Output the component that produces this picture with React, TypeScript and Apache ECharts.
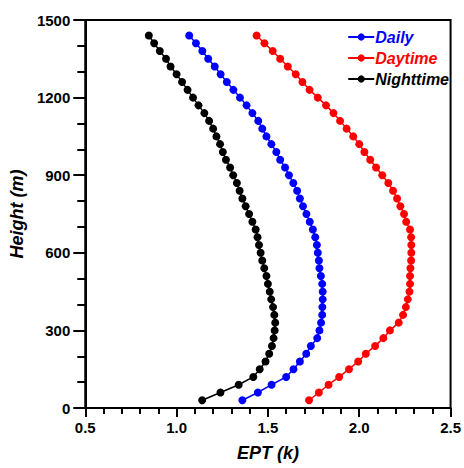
import React, { useEffect, useRef } from "react";
import * as echarts from "echarts";

const heights = [30, 60, 90, 120, 150, 180, 210, 240, 270, 300, 330, 360, 390, 420, 450, 480, 510, 540, 570, 600, 630, 660, 690, 720, 750, 780, 810, 840, 870, 900, 930, 960, 990, 1020, 1050, 1080, 1110, 1140, 1170, 1200, 1230, 1260, 1290, 1320, 1350, 1380, 1410, 1440];

const dailyEPT = [1.36, 1.445, 1.52, 1.6, 1.64, 1.675, 1.71, 1.735, 1.77, 1.782, 1.791, 1.797, 1.798, 1.8, 1.8, 1.797, 1.79, 1.782, 1.779, 1.773, 1.768, 1.759, 1.746, 1.729, 1.711, 1.692, 1.675, 1.66, 1.639, 1.615, 1.594, 1.567, 1.546, 1.519, 1.492, 1.469, 1.447, 1.415, 1.383, 1.347, 1.311, 1.275, 1.241, 1.209, 1.173, 1.141, 1.106, 1.069];

const daytimeEPT = [1.725, 1.779, 1.832, 1.89, 1.944, 1.994, 2.036, 2.087, 2.132, 2.168, 2.216, 2.24, 2.255, 2.266, 2.275, 2.278, 2.278, 2.28, 2.284, 2.285, 2.285, 2.284, 2.278, 2.257, 2.245, 2.225, 2.207, 2.185, 2.159, 2.126, 2.092, 2.06, 2.028, 2.0, 1.967, 1.931, 1.895, 1.859, 1.818, 1.773, 1.728, 1.689, 1.652, 1.609, 1.567, 1.526, 1.481, 1.438];

const nighttimeEPT = [1.14, 1.24, 1.34, 1.42, 1.455, 1.487, 1.507, 1.522, 1.531, 1.537, 1.54, 1.535, 1.528, 1.518, 1.51, 1.5, 1.492, 1.48, 1.469, 1.46, 1.451, 1.443, 1.433, 1.415, 1.397, 1.378, 1.36, 1.345, 1.33, 1.31, 1.293, 1.27, 1.253, 1.238, 1.218, 1.2, 1.178, 1.152, 1.12, 1.09, 1.06, 1.03, 1.0, 0.967, 0.942, 0.908, 0.877, 0.848];

const seriesNames = ["Daily", "Daytime", "Nighttime"];
const seriesColors = ["#0000ff", "#ff0000", "#000000"];
const seriesValues = [dailyEPT, daytimeEPT, nighttimeEPT];

const FONT = "Liberation Sans, Arial, sans-serif";

export default function App() {
  const ref = useRef<HTMLDivElement>(null);
  useEffect(() => {
    if (!ref.current) return;
    const chart = echarts.init(ref.current, null, { renderer: "svg" });
    const axisLabel = { color: "#000", fontFamily: FONT, fontWeight: "bold", fontSize: 15 };
    chart.setOption({
      animation: false,
      backgroundColor: "#fff",
      grid: {
        left: 81,
        right: 11,
        top: 20,
        bottom: 60,
        show: true,
        borderColor: "#000",
        borderWidth: 2,
        backgroundColor: "transparent",
      },
      legend: {
        right: 10,
        top: 24,
        orient: "vertical",
        itemWidth: 26,
        itemHeight: 9,
        itemGap: 5,
        textStyle: { fontFamily: FONT, fontWeight: "bold", fontStyle: "italic", fontSize: 16, padding: [0, 0, 0, -4] },
        data: seriesNames.map((n, i) => ({ name: n, textStyle: { color: seriesColors[i] } })),
      },
      xAxis: {
        type: "value",
        min: 0.5,
        max: 2.5,
        interval: 0.5,
        name: "EPT (k)",
        nameLocation: "middle",
        nameGap: 36,
        nameTextStyle: { color: "#000", fontFamily: FONT, fontWeight: "bold", fontStyle: "italic", fontSize: 18 },
        axisLine: { show: true, lineStyle: { color: "#000", width: 2 } },
        axisTick: { show: true, length: 9, lineStyle: { color: "#000", width: 2 } },
        minorTick: { show: true, splitNumber: 5, length: 6, lineStyle: { color: "#000", width: 2 } },
        splitLine: { show: false },
        axisLabel: { ...axisLabel, margin: 12, formatter: (v: number) => v.toFixed(1) },
      },
      yAxis: {
        type: "value",
        min: 0,
        max: 1500,
        interval: 300,
        name: "Height (m)",
        nameLocation: "middle",
        nameGap: 48,
        nameRotate: 90,
        nameTextStyle: { color: "#000", fontFamily: FONT, fontWeight: "bold", fontStyle: "italic", fontSize: 18 },
        axisLine: { show: true, lineStyle: { color: "#000", width: 2 } },
        axisTick: { show: true, length: 12, lineStyle: { color: "#000", width: 2 } },
        minorTick: { show: true, splitNumber: 3, length: 8, lineStyle: { color: "#000", width: 2 } },
        splitLine: { show: false },
        axisLabel: { ...axisLabel, margin: 15, formatter: (v: number) => String(v) },
      },
      series: seriesNames.map((n, i) => ({
        name: n,
        type: "line",
        data: heights.map((h, j) => [seriesValues[i][j], h]),
        color: seriesColors[i],
        symbol: "circle",
        symbolSize: 8,
        lineStyle: { width: 1.5, color: seriesColors[i] },
        itemStyle: { color: seriesColors[i] },
      })),
    });
    return () => chart.dispose();
  }, []);
  return <div ref={ref} style={{ width: 464, height: 468, position: "absolute", left: 0, top: 0 }} />;
}
